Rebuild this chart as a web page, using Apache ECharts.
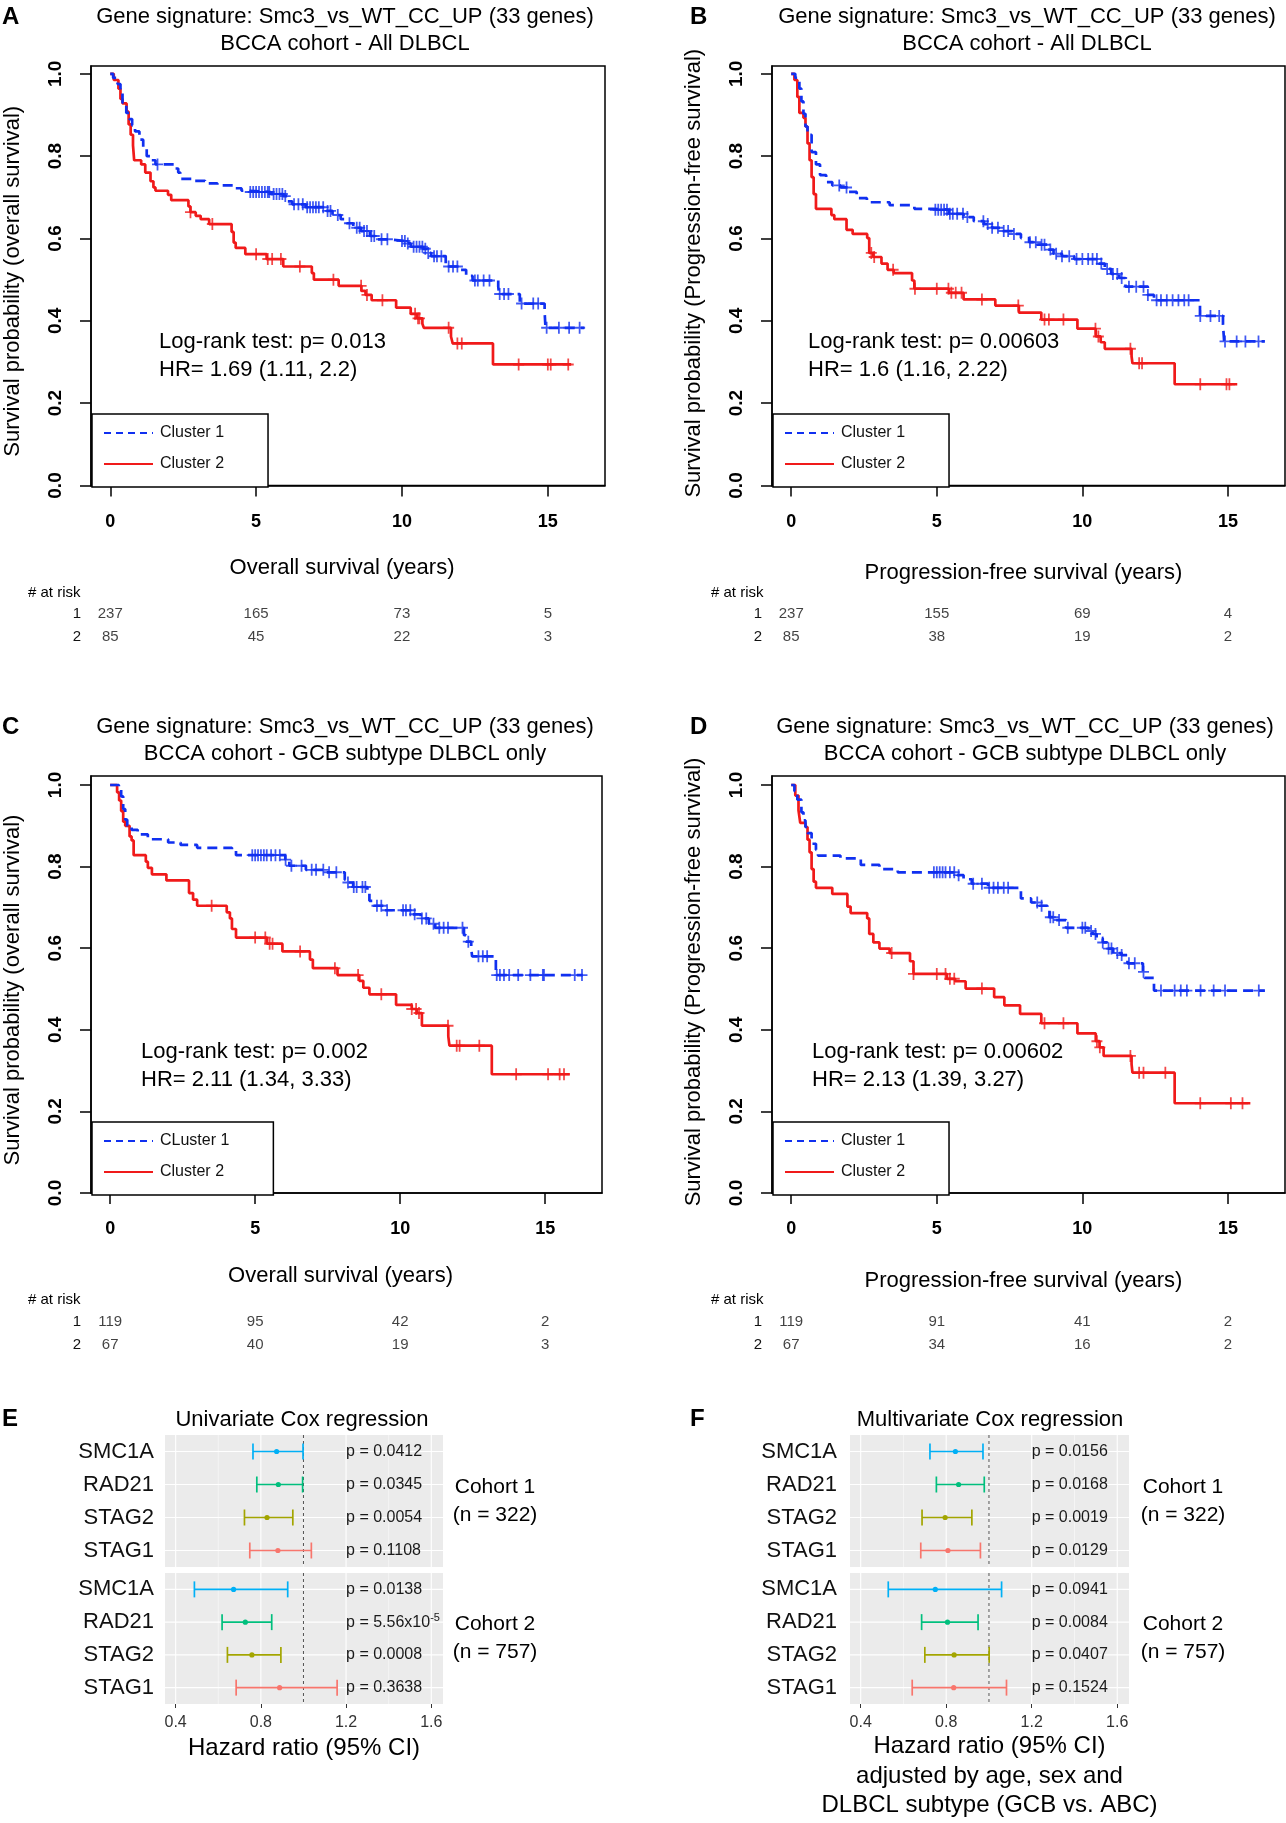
<!DOCTYPE html>
<html lang="en">
<head>
<meta charset="UTF-8">
<title>Smc3 signature survival</title>
<script src="https://cdn.jsdelivr.net/npm/echarts@6/dist/echarts.min.js"></script>
<style>
  html, body { margin: 0; padding: 0; background: #fff; }
  #main { width: 1286px; height: 1823px; }
</style>
</head>
<body>
<div id="main"></div>
<script>
// ---------- data ----------
const riskTimes = [0, 5, 10, 15];
const yTicks = [0, 0.2, 0.4, 0.6, 0.8, 1.0];
const hrTicks = [0.4, 0.8, 1.2, 1.6];
const hrMinor = [0.6, 1.0, 1.4];

// Kaplan-Meier steps: [time of drop, survival after drop]
const kmA1 = [[0,1],[0.1,0.99],[0.25,0.975],[0.35,0.955],[0.42,0.93],[0.55,0.905],[0.65,0.89],[0.75,0.875],[0.85,0.86],[1.0,0.84],[1.13,0.82],[1.25,0.8],[1.4,0.79],[1.55,0.78],[2.2,0.77],[2.33,0.76],[2.4,0.745],[2.8,0.74],[3.25,0.734],[3.67,0.729],[4.3,0.722],[4.5,0.716],[4.75,0.713],[5.5,0.708],[5.93,0.703],[6.07,0.69],[6.24,0.683],[6.7,0.676],[7.4,0.667],[7.62,0.657],[7.9,0.647],[8.1,0.637],[8.33,0.626],[8.6,0.618],[8.9,0.606],[9.1,0.598],[9.52,0.594],[10.16,0.588],[10.3,0.58],[10.72,0.575],[10.87,0.565],[11.0,0.557],[11.5,0.532],[12.0,0.524],[12.2,0.509],[12.42,0.498],[13.3,0.483],[13.33,0.465],[14.04,0.442],[14.89,0.422],[14.92,0.383],[16.25,0.383]];
const cenA1 = [1.62,4.8,4.9,5.0,5.1,5.2,5.3,5.4,5.45,5.6,5.7,5.8,5.9,6.0,6.3,6.45,6.6,6.75,6.85,6.95,7.05,7.15,7.3,7.45,7.55,7.8,8.2,8.45,8.55,8.7,8.8,8.95,9.05,9.3,9.5,10.0,10.1,10.2,10.4,10.5,10.6,10.7,10.8,10.9,11.1,11.2,11.35,11.6,11.75,11.9,12.5,12.6,12.8,13.0,13.35,13.5,13.65,14.1,14.5,14.67,14.96,15.38,15.73,16.09];
const kmA2 = [[0,1],[0.12,0.985],[0.28,0.964],[0.35,0.939],[0.42,0.928],[0.56,0.908],[0.63,0.877],[0.7,0.852],[0.78,0.826],[0.82,0.79],[1.06,0.78],[1.2,0.76],[1.38,0.739],[1.48,0.724],[1.55,0.716],[1.98,0.706],[2.09,0.693],[2.68,0.678],[2.75,0.664],[2.93,0.655],[3.1,0.647],[3.39,0.635],[4.16,0.616],[4.23,0.59],[4.3,0.577],[4.63,0.562],[5.36,0.55],[5.93,0.532],[6.91,0.516],[6.98,0.5],[7.83,0.485],[8.61,0.473],[8.75,0.463],[8.96,0.45],[9.8,0.432],[10.3,0.417],[10.51,0.406],[10.7,0.393],[10.75,0.383],[11.68,0.362],[11.74,0.345],[13.12,0.294],[15.8,0.294]];
const cenA2 = [2.75,3.5,5.0,5.4,5.55,5.85,6.5,7.65,8.6,8.8,9.33,10.45,10.55,10.6,11.6,11.9,12.05,14.0,15.0,15.1,15.7];

const kmB1 = [[0,1],[0.14,0.99],[0.28,0.964],[0.35,0.933],[0.42,0.903],[0.49,0.872],[0.56,0.852],[0.7,0.81],[0.85,0.78],[0.99,0.754],[1.2,0.737],[1.41,0.729],[1.69,0.724],[1.97,0.713],[2.25,0.698],[2.6,0.688],[3.38,0.681],[4.23,0.672],[4.86,0.67],[5.42,0.66],[5.92,0.652],[6.27,0.642],[6.62,0.635],[6.9,0.626],[7.18,0.618],[7.6,0.611],[7.89,0.601],[8.17,0.591],[8.45,0.585],[8.8,0.573],[9.01,0.563],[9.3,0.557],[9.72,0.55],[10.56,0.539],[10.77,0.526],[10.99,0.514],[11.27,0.504],[11.48,0.483],[12.25,0.463],[12.46,0.45],[14.04,0.412],[14.83,0.391],[14.87,0.35],[16.27,0.35]];
const cenB1 = [1.65,1.9,4.95,5.05,5.15,5.25,5.35,5.45,5.55,5.7,5.9,6.05,6.6,6.75,6.9,7.1,7.3,7.45,7.65,8.2,8.4,8.6,8.7,8.9,9.1,9.3,9.55,9.8,10.0,10.2,10.35,10.5,10.65,10.85,11.05,11.2,11.35,11.6,11.85,12.1,12.25,12.55,12.7,12.9,13.1,13.3,13.5,13.65,14.05,14.4,14.7,14.9,15.3,15.6,16.05];
const kmB2 = [[0,1],[0.11,0.985],[0.21,0.944],[0.28,0.905],[0.42,0.893],[0.49,0.872],[0.56,0.831],[0.63,0.79],[0.7,0.749],[0.77,0.708],[0.85,0.672],[1.38,0.657],[1.48,0.647],[1.9,0.621],[2.11,0.611],[2.61,0.601],[2.68,0.565],[2.82,0.555],[3.1,0.539],[3.31,0.524],[3.52,0.516],[4.15,0.498],[4.23,0.478],[5.42,0.468],[5.92,0.452],[7.01,0.437],[7.82,0.42],[8.59,0.403],[9.83,0.381],[10.46,0.362],[10.63,0.348],[10.77,0.332],[11.69,0.314],[11.72,0.297],[13.17,0.246],[15.32,0.246]];
const cenB2 = [2.75,2.85,3.5,4.25,5.0,5.4,5.5,5.65,5.85,6.55,7.8,8.7,8.85,9.35,10.45,10.55,11.65,11.95,12.05,14.05,14.95,15.05];

const kmC1 = [[0,1],[0.3,0.99],[0.38,0.972],[0.45,0.941],[0.52,0.915],[0.59,0.9],[0.74,0.89],[0.95,0.879],[1.3,0.867],[2.0,0.859],[2.43,0.853],[3.0,0.846],[4.2,0.838],[4.34,0.828],[6.04,0.817],[6.18,0.802],[6.75,0.792],[7.39,0.786],[8.09,0.768],[8.16,0.761],[8.38,0.75],[8.87,0.735],[8.94,0.716],[9.08,0.704],[9.44,0.693],[10.36,0.683],[10.71,0.673],[10.99,0.66],[11.21,0.65],[12.2,0.632],[12.27,0.616],[12.45,0.601],[12.48,0.58],[13.3,0.534],[16.3,0.534]];
const cenC1 = [4.9,5.0,5.1,5.2,5.3,5.4,5.55,5.7,5.85,6.05,6.25,6.6,6.95,7.1,7.35,7.55,7.8,8.2,8.4,8.5,8.7,8.8,9.2,9.35,9.55,10.1,10.2,10.35,10.5,10.75,10.9,11.15,11.35,11.5,11.65,12.15,12.35,12.7,12.85,13.0,13.33,13.44,13.58,13.76,14.07,14.49,14.92,14.96,16.02,16.27];
const kmC2 = [[0,1],[0.24,0.982],[0.31,0.962],[0.38,0.936],[0.45,0.91],[0.52,0.9],[0.67,0.874],[0.74,0.864],[0.81,0.828],[1.23,0.812],[1.3,0.797],[1.44,0.781],[1.94,0.766],[2.72,0.735],[2.86,0.719],[3.0,0.704],[4.02,0.688],[4.13,0.673],[4.2,0.647],[4.34,0.626],[5.41,0.611],[5.94,0.592],[6.89,0.572],[6.99,0.551],[7.84,0.534],[8.59,0.52],[8.73,0.503],[8.94,0.487],[9.86,0.461],[10.4,0.451],[10.57,0.441],[10.75,0.41],[11.66,0.384],[11.7,0.361],[13.16,0.291],[15.85,0.291]];
const cenC2 = [3.5,5.0,5.35,5.5,5.6,6.55,7.75,8.55,9.35,10.4,10.55,10.65,11.65,11.95,12.05,12.73,14.0,15.1,15.5,15.65];

const kmD1 = [[0,1],[0.11,0.985],[0.21,0.964],[0.35,0.933],[0.42,0.913],[0.49,0.897],[0.56,0.882],[0.7,0.856],[0.85,0.841],[0.92,0.827],[1.69,0.82],[2.39,0.804],[3.03,0.794],[3.66,0.786],[5.7,0.779],[5.92,0.769],[6.2,0.758],[6.76,0.748],[7.89,0.722],[8.24,0.712],[8.52,0.704],[8.8,0.697],[8.87,0.676],[9.01,0.669],[9.44,0.65],[10.21,0.642],[10.35,0.635],[10.49,0.624],[10.7,0.614],[10.85,0.599],[11.06,0.588],[11.34,0.583],[11.55,0.563],[12.08,0.542],[12.14,0.527],[12.46,0.496],[16.27,0.496]];
const cenD1 = [4.9,5.0,5.1,5.2,5.3,5.45,5.6,5.75,6.25,6.55,6.8,6.95,7.1,7.3,7.45,8.45,8.6,8.9,9.0,9.2,9.5,10.0,10.1,10.3,10.45,10.7,10.9,11.0,11.2,11.35,11.6,11.8,12.1,12.7,13.17,13.38,13.59,14.06,14.51,14.9,16.06];
const kmD2 = [[0,1],[0.14,0.974],[0.25,0.938],[0.31,0.907],[0.49,0.897],[0.56,0.866],[0.63,0.835],[0.7,0.794],[0.77,0.763],[0.85,0.748],[1.41,0.733],[1.93,0.702],[2.04,0.686],[2.61,0.673],[2.68,0.635],[2.82,0.614],[3.03,0.599],[3.38,0.588],[4.08,0.568],[4.2,0.537],[5.35,0.525],[5.63,0.519],[5.99,0.501],[6.97,0.48],[7.32,0.46],[7.86,0.439],[8.59,0.416],[9.83,0.391],[10.46,0.372],[10.59,0.357],[10.73,0.336],[11.69,0.316],[11.72,0.295],[13.17,0.22],[15.77,0.22]];
const cenD2 = [3.45,4.2,5.0,5.3,5.45,5.6,6.55,8.7,9.35,10.5,10.6,11.65,11.95,12.1,12.85,14.05,15.1,15.5];

// numbers at risk at 0, 5, 10, 15 years (row 1 = cluster 1, row 2 = cluster 2)
const riskA = [[237, 165, 73, 5], [85, 45, 22, 3]];
const riskB = [[237, 155, 69, 4], [85, 38, 19, 2]];
const riskC = [[119, 95, 42, 2], [67, 40, 19, 3]];
const riskD = [[119, 91, 41, 2], [67, 34, 16, 2]];

// Cox regression: [lower CI, HR, upper CI]
const genes = ['SMC1A', 'RAD21', 'STAG2', 'STAG1'];
const uniCohort1 = [[0.763, 0.874, 0.998], [0.781, 0.882, 0.996], [0.723, 0.829, 0.950], [0.748, 0.880, 1.037]];
const uniCohort2 = [[0.488, 0.672, 0.926], [0.618, 0.727, 0.851], [0.643, 0.758, 0.894], [0.684, 0.888, 1.158]];
const multiCohort1 = [[0.724, 0.843, 0.972], [0.754, 0.858, 0.978], [0.687, 0.795, 0.920], [0.681, 0.808, 0.960]];
const multiCohort2 = [[0.529, 0.749, 1.059], [0.685, 0.806, 0.949], [0.700, 0.837, 1.001], [0.641, 0.835, 1.082]];
const uniP1 = ['0.0412', '0.0345', '0.0054', '0.1108'];
const uniP2 = ['0.0138', '5.56x10^-5', '0.0008', '0.3638'];
const multiP1 = ['0.0156', '0.0168', '0.0019', '0.0129'];
const multiP2 = ['0.0941', '0.0084', '0.0407', '0.1524'];
const cohortLabels = [['Cohort 1', '(n = 322)'], ['Cohort 2', '(n = 757)']];

// ---------- styling ----------
const FONT = '"Liberation Sans", Arial, Helvetica, sans-serif';
const BLUE = '#1030f0';
const RED = '#f01a1a';
const geneColors = ['#00B0F6', '#00BF7D', '#A3A500', '#F8766D'];
const PLUS = 'path://M0,4.2H4.2V0H5.8V4.2H10V5.8H5.8V10H4.2V5.8H0Z';
const X_MIN = -0.66, X_MAX = 16.96;
const HR_MIN = 0.35, HR_MAX = 1.655, P_X = 1.2;

const option = {
    animation: false,
    backgroundColor: '#fff',
    textStyle: { fontFamily: FONT },
    grid: [], xAxis: [], yAxis: [], series: [], legend: [],
    graphic: { elements: [] }
};

function font(size, weight) {
    return (weight || 'normal') + ' ' + size + 'px ' + FONT;
}

function text(x, y, str, size, align, weight) {
    option.graphic.elements.push({
        type: 'text', x: x, y: y, silent: true,
        style: {
            text: str, font: font(size, weight), fill: '#000',
            align: align || 'left', textAlign: align || 'left',
            verticalAlign: 'middle', textVerticalAlign: 'middle'
        }
    });
}

function survAt(curve, t) {
    let s = curve[0][1];
    for (const [tt, v] of curve) {
        if (tt <= t) s = v; else break;
    }
    return s;
}

// ---------- Kaplan-Meier panels ----------
const kmPanels = [
    { letter: 'A', curves: [kmA1, kmA2], cens: [cenA1, cenA2], risk: riskA,
      names: ['Cluster 1', 'Cluster 2'], sub: 'BCCA cohort - All DLBCL',
      stat: ['Log-rank test: p= 0.013', 'HR= 1.69 (1.11, 2.2)'],
      xName: 'Overall survival (years)', yName: 'Survival probability (overall survival)',
      box: [91, 66, 514, 419.5], yMax: 1.019, xGap: 71.5, xPad: [0, 12, 0, 0], yPad: [0, 11, 0, 0],
      titleX: 345, letterX: 2, statX: 159, legendPos: [92, 414], riskLabelX: 28 },
    { letter: 'B', curves: [kmB1, kmB2], cens: [cenB1, cenB2], risk: riskB,
      names: ['Cluster 1', 'Cluster 2'], sub: 'BCCA cohort - All DLBCL',
      stat: ['Log-rank test: p= 0.00603', 'HR= 1.6 (1.16, 2.22)'],
      xName: 'Progression-free survival (years)', yName: 'Survival probability (Progression-free survival)',
      box: [772, 66, 513, 419.5], yMax: 1.019, xGap: 76.5, xPad: [0, 10, 0, 0], yPad: [0, 0, 0, 5],
      titleX: 1027, letterX: 690, statX: 808, legendPos: [773, 414], riskLabelX: 711 },
    { letter: 'C', curves: [kmC1, kmC2], cens: [cenC1, cenC2], risk: riskC,
      names: ['CLuster 1', 'Cluster 2'], sub: 'BCCA cohort - GCB subtype DLBCL only',
      stat: ['Log-rank test: p= 0.002', 'HR= 2.11 (1.34, 3.33)'],
      xName: 'Overall survival (years)', yName: 'Survival probability (overall survival)',
      box: [91, 776, 511, 417], yMax: 1.022, xGap: 71.5, xPad: [0, 12, 0, 0], yPad: [0, 11, 0, 0],
      titleX: 345, letterX: 2, statX: 141, legendPos: [92, 1122], riskLabelX: 28 },
    { letter: 'D', curves: [kmD1, kmD2], cens: [cenD1, cenD2], risk: riskD,
      names: ['Cluster 1', 'Cluster 2'], sub: 'BCCA cohort - GCB subtype DLBCL only',
      stat: ['Log-rank test: p= 0.00602', 'HR= 2.13 (1.39, 3.27)'],
      xName: 'Progression-free survival (years)', yName: 'Survival probability (Progression-free survival)',
      box: [772, 776, 513, 417], yMax: 1.022, xGap: 76.5, xPad: [0, 10, 0, 0], yPad: [0, 0, 0, 5],
      titleX: 1025, letterX: 690, statX: 812, legendPos: [773, 1122], riskLabelX: 711 }
];

kmPanels.forEach(function (p) {
    const [left, top, width, height] = p.box;
    const gi = option.grid.length;
    option.grid.push({ left: left, top: top, width: width, height: height, show: true,
        borderColor: '#000', borderWidth: 1.5, backgroundColor: 'transparent',
        containLabel: false, outerBoundsMode: 'none' });
    option.xAxis.push({
        gridIndex: gi, type: 'value', min: X_MIN, max: X_MAX,
        name: p.xName, nameLocation: 'middle', nameGap: p.xGap, nameMoveOverlap: false,
        nameTextStyle: { fontSize: 22, color: '#000', fontFamily: FONT, padding: p.xPad },
        axisLine: { show: true, onZero: false, lineStyle: { color: '#000', width: 1.5 } },
        axisTick: { show: true, length: 11, customValues: riskTimes, lineStyle: { color: '#000', width: 1.5 } },
        axisLabel: { customValues: riskTimes, fontSize: 18, fontWeight: 'bold', color: '#000', margin: 27.5, fontFamily: FONT },
        splitLine: { show: false }
    });
    option.yAxis.push({
        gridIndex: gi, type: 'value', min: 0, max: p.yMax,
        name: p.yName, nameLocation: 'middle', nameGap: 67, nameMoveOverlap: false,
        nameTextStyle: { fontSize: 22, color: '#000', fontFamily: FONT, padding: p.yPad },
        axisLine: { show: true, onZero: false, lineStyle: { color: '#000', width: 1.5 } },
        axisTick: { show: true, length: 11, customValues: yTicks, lineStyle: { color: '#000', width: 1.5 } },
        axisLabel: { customValues: yTicks, rotate: 90, fontSize: 19, fontWeight: 'bold', color: '#000', margin: 26,
            fontFamily: FONT, formatter: function (v) { return v.toFixed(1); } },
        splitLine: { show: false }
    });
    [RED, BLUE].forEach(function (col, k) {
        const idx = col === BLUE ? 0 : 1;
        const curve = p.curves[idx];
        option.series.push({
            type: 'line', name: p.names[idx], xAxisIndex: gi, yAxisIndex: gi,
            data: curve, step: 'end', symbol: 'none', z: 3 + k,
            lineStyle: { color: col, width: 2.7, type: idx === 0 ? [10, 6] : 'solid' },
            itemStyle: { color: col }
        });
        option.series.push({
            type: 'scatter', name: 'censored ' + idx, xAxisIndex: gi, yAxisIndex: gi,
            data: p.cens[idx].map(function (t) { return [t, survAt(curve, t)]; }),
            symbol: PLUS, symbolSize: [11, 12], z: 5 + k,
            itemStyle: { color: col }
        });
    });
    option.legend.push({
        data: [{ name: p.names[0], lineStyle: { type: [7, 5] } }, { name: p.names[1] }],
        left: p.legendPos[0], top: p.legendPos[1], orient: 'vertical',
        selectedMode: false, backgroundColor: '#fff', borderColor: '#000', borderWidth: 1.5, borderRadius: 0,
        padding: [11, 44, 15, 11], itemWidth: 49, itemHeight: 14, itemGap: 15,
        itemStyle: { opacity: 0, borderWidth: 0 },
        textStyle: { fontSize: 16, color: '#111', fontFamily: FONT, padding: [0, 0, 0, 2] }
    });

    // numbers at risk, placed on the same time scale
    const ri = option.grid.length;
    option.grid.push({ left: left, top: top + height + 117, width: width, height: 46, show: false,
        containLabel: false, outerBoundsMode: 'none' });
    option.xAxis.push({ gridIndex: ri, type: 'value', min: X_MIN, max: X_MAX, show: false });
    option.yAxis.push({ gridIndex: ri, type: 'category', data: ['1', '2'], inverse: true,
        axisLine: { show: false }, axisTick: { show: false }, splitLine: { show: false },
        axisLabel: { fontSize: 15, color: '#111', margin: 10, fontFamily: FONT } });
    const riskData = [];
    p.risk.forEach(function (row, r) {
        row.forEach(function (n, j) { riskData.push([riskTimes[j], r, n]); });
    });
    option.series.push({
        type: 'scatter', name: 'risk', xAxisIndex: ri, yAxisIndex: ri, data: riskData,
        symbolSize: 1, itemStyle: { color: 'rgba(0,0,0,0)' }, silent: true,
        label: { show: true, position: 'inside', fontSize: 15, color: '#111', fontFamily: FONT,
            formatter: function (d) { return String(d.value[2]); } }
    });

    text(p.letterX, top - 49, p.letter, 24, 'left', 'bold');
    text(p.titleX, top - 49, 'Gene signature: Smc3_vs_WT_CC_UP (33 genes)', 22, 'center');
    text(p.titleX, top - 22, p.sub, 22, 'center');
    text(p.statX, top + 276, p.stat[0], 22);
    text(p.statX, top + 304, p.stat[1], 22);
    text(p.riskLabelX, top + height + 107, '# at risk', 15);
});

// ---------- forest plots ----------
function renderGridLine(params, api) {
    const cs = params.coordSys;
    const kind = api.value(2);
    if (kind === 2) {
        const y = api.coord([1, api.value(1)])[1];
        return { type: 'line', shape: { x1: cs.x, y1: y, x2: cs.x + cs.width, y2: y },
            style: { stroke: '#fff', lineWidth: 1.1 } };
    }
    const x = api.coord([api.value(0), 0])[0];
    return { type: 'line', shape: { x1: x, y1: cs.y, x2: x, y2: cs.y + cs.height },
        style: kind === 3 ? { stroke: '#555', lineWidth: 1, lineDash: [3, 3] }
                          : { stroke: '#fff', lineWidth: kind === 0 ? 1.1 : 0.5 } };
}

function pLabel(x, y, p) {
    const parts = p.split('^');
    const style = { align: 'left', textAlign: 'left', verticalAlign: 'middle', textVerticalAlign: 'middle',
        fill: '#1a1a1a', font: font(16) };
    if (parts.length === 1) {
        style.text = 'p = ' + p;
    } else {
        style.text = '{b|p = ' + parts[0] + '}{s|' + parts[1] + '}';
        style.rich = {
            b: { fontSize: 16, fontFamily: FONT, lineHeight: 20, fill: '#1a1a1a', color: '#1a1a1a' },
            s: { fontSize: 11, fontFamily: FONT, lineHeight: 11, verticalAlign: 'top', fill: '#1a1a1a', color: '#1a1a1a' }
        };
    }
    return { type: 'text', x: x, y: y, style: style };
}

function errRender(pvals) {
    return function (params, api) {
        const i = api.value(1);
        const lo = api.coord([api.value(0), i]);
        const pt = api.coord([api.value(2), i]);
        const hi = api.coord([api.value(3), i]);
        const px = api.coord([P_X, i])[0];
        const col = geneColors[i];
        const ls = { stroke: col, lineWidth: 1.7 };
        return { type: 'group', children: [
            { type: 'line', shape: { x1: lo[0], y1: lo[1], x2: hi[0], y2: hi[1] }, style: ls },
            { type: 'line', shape: { x1: lo[0], y1: lo[1] - 8, x2: lo[0], y2: lo[1] + 8 }, style: ls },
            { type: 'line', shape: { x1: hi[0], y1: hi[1] - 8, x2: hi[0], y2: hi[1] + 8 }, style: ls },
            { type: 'circle', shape: { cx: pt[0], cy: pt[1], r: 2.6 }, style: { fill: col } },
            pLabel(px, pt[1], pvals[params.dataIndex])
        ] };
    };
}

const forestPanels = [
    { letter: 'E', title: 'Univariate Cox regression', sets: [uniCohort1, uniCohort2], pvals: [uniP1, uniP2],
      left: 165, width: 278, labelMargin: 11, titleX: 302, letterX: 2, cohortX: 495,
      xName: 'Hazard ratio (95% CI)', nameGap: 30 },
    { letter: 'F', title: 'Multivariate Cox regression', sets: [multiCohort1, multiCohort2], pvals: [multiP1, multiP2],
      left: 850, width: 279, labelMargin: 13, titleX: 990, letterX: 690, cohortX: 1183,
      xName: 'Hazard ratio (95% CI)\nadjusted by age, sex and\nDLBCL subtype (GCB vs. ABC)', nameGap: 28 }
];
const facetTops = [1435, 1573];
const facetHeights = [132, 131];

const gridLineData = [];
hrTicks.forEach(function (v) { gridLineData.push([v, 0, 0]); });
hrMinor.forEach(function (v) { gridLineData.push([v, 0, 1]); });
genes.forEach(function (g, i) { gridLineData.push([1, i, 2]); });
gridLineData.push([1, 0, 3]);

forestPanels.forEach(function (p) {
    p.sets.forEach(function (set, f) {
        const gi = option.grid.length;
        const last = f === p.sets.length - 1;
        option.grid.push({ left: p.left, top: facetTops[f], width: p.width, height: facetHeights[f], show: true,
            backgroundColor: '#EBEBEB', borderWidth: 0, containLabel: false, outerBoundsMode: 'none' });
        option.xAxis.push({
            gridIndex: gi, type: 'value', min: HR_MIN, max: HR_MAX,
            name: last ? p.xName : '', nameLocation: 'middle', nameGap: p.nameGap, nameMoveOverlap: false,
            nameTextStyle: { fontSize: 24, lineHeight: 29.5, color: '#000', fontFamily: FONT },
            axisLine: { show: false },
            axisTick: { show: last, length: 4, customValues: hrTicks, lineStyle: { color: '#333', width: 1 } },
            axisLabel: { show: last, customValues: hrTicks, fontSize: 16, color: '#333', margin: 11, fontFamily: FONT,
                formatter: function (v) { return v.toFixed(1); } },
            splitLine: { show: false }
        });
        option.yAxis.push({
            gridIndex: gi, type: 'category', data: genes, inverse: true,
            axisLine: { show: false }, axisTick: { show: false }, splitLine: { show: false },
            axisLabel: { fontSize: 22, color: '#111', margin: p.labelMargin, fontFamily: FONT }
        });
        option.series.push({
            type: 'custom', name: 'grid', xAxisIndex: gi, yAxisIndex: gi, silent: true, z: 1,
            data: gridLineData, renderItem: renderGridLine
        });
        option.series.push({
            type: 'custom', name: 'hr', xAxisIndex: gi, yAxisIndex: gi, silent: true, z: 2,
            encode: { x: [0, 2, 3], y: 1 },
            data: set.map(function (d, i) { return [d[0], i, d[1], d[2]]; }),
            renderItem: errRender(p.pvals[f])
        });
        const cy = facetTops[f] + facetHeights[f] / 2;
        text(p.cohortX, cy - 14, cohortLabels[f][0], 21, 'center');
        text(p.cohortX, cy + 14, cohortLabels[f][1], 21, 'center');
    });
    text(p.letterX, 1419, p.letter, 24, 'left', 'bold');
    text(p.titleX, 1420, p.title, 22, 'center');
});

const chart = echarts.init(document.getElementById('main'), null, { renderer: 'canvas' });
chart.setOption(option);
</script>
</body>
</html>
